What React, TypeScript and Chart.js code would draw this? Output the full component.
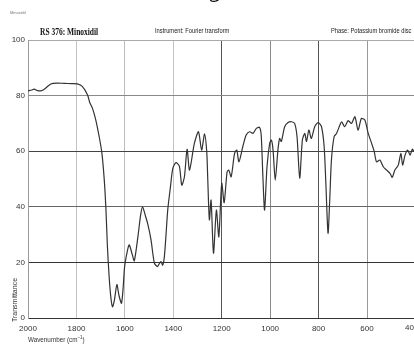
import React, { useEffect, useRef } from "react";
import { Chart, registerables } from "chart.js";

Chart.register(...registerables);

const wavenumbers = [
  2000, 1985, 1975, 1960, 1947, 1930, 1906, 1880, 1851, 1820, 1796, 1775, 1754, 1745, 1734, 1720, 1706, 1695,
  1685, 1678, 1672, 1665, 1658, 1651, 1643, 1633, 1624, 1614, 1607, 1601, 1590, 1582, 1570, 1561, 1545, 1535,
  1527, 1516, 1506, 1492, 1478, 1465, 1458, 1451, 1444, 1437, 1430, 1423, 1412, 1402, 1389, 1375, 1365, 1354,
  1343, 1333, 1313, 1296, 1283, 1271, 1262, 1258, 1251, 1244, 1234, 1222, 1212, 1200, 1190, 1178, 1171, 1161,
  1147, 1138, 1129, 1113, 1099, 1085, 1071, 1057, 1044, 1037, 1030, 1023, 1013, 1002, 995, 988, 979, 968, 961,
  954, 940, 926, 912, 899, 889, 878, 867, 857, 850, 840, 830, 816, 802, 788, 777, 770, 761, 754, 747, 736, 726,
  712, 705, 692, 678, 664, 650, 637, 623, 609, 595, 581, 570, 561, 547, 533, 519, 505, 496, 485, 471, 460, 453,
  443, 432, 422, 413, 406,
];

const transmittance = [
  81.7, 82.0, 82.3, 81.8, 81.7, 82.5, 84.2, 84.5, 84.4, 84.3, 84.2, 83.2, 80.2, 77.5, 75.5, 71.2, 65.2, 59.4,
  49.6, 38.8, 25.6, 14.9, 7.5, 4.0, 6.5, 12, 8, 5.3, 11, 18.5, 24, 26.3, 23, 20.6, 30, 37,
  40.0, 37, 34.0, 28.1, 19.7, 18.5, 19.5, 20.3, 19, 22, 30, 38.8, 47, 53.8, 55.9, 54.6, 47.8, 50.8,
  60.7, 53.2, 62.8, 67.0, 60.4, 66.2, 60, 50.8, 35.3, 42.4, 23.3, 38.8, 29.2, 48.5, 41.5, 52.5, 53.2, 50.8,
  59.2, 60.4, 56.2, 61.6, 65.8, 67, 66.4, 68.2, 68.6, 65.8, 50.8, 38.8, 54.4, 62.8, 64, 60.4, 49.6, 60.4, 64.6,
  63.5, 68.8, 70.3, 70.6, 70, 65.2, 50.3, 64, 66.4, 63.5, 67.6, 64.6, 68.8, 70.3, 68.8, 61.6, 48.5, 30.5, 42.4, 56.8, 65.2, 66.4,
  69.4, 70.6, 68.8, 71, 70, 72.4, 67.6, 71.8, 71.2, 66.4, 62.8, 59.8, 56.2, 56.8, 54.4, 53.2, 52, 50.6, 53.2, 55, 59.2, 55,
  58.6, 60.4, 58.6, 60.7, 59.8,
];

const xTicks = [2000, 1800, 1600, 1400, 1200, 1000, 800, 600];
const yTicks = [0, 20, 40, 60, 80, 100];

const xGridColors: Record<number, string> = {
  2000: "#888", 1800: "#c4c4c4", 1600: "#bdbdbd", 1400: "#c4c4c4", 1200: "#555", 1000: "#8a8a8a", 800: "#555", 600: "#999",
};
const yGridColors: Record<number, string> = {
  0: "#333", 20: "#333", 40: "#666", 60: "#444", 80: "#888", 100: "#aaa",
};

const sans = "'Liberation Sans', Arial, sans-serif";

export default function App() {
  const ref = useRef<HTMLCanvasElement | null>(null);

  useEffect(() => {
    if (!ref.current) return;
    const points = wavenumbers.map((w, i) => ({ x: w, y: transmittance[i] }));
    const chart = new Chart(ref.current, {
      type: "line",
      data: {
        datasets: [
          {
            data: points,
            borderColor: "#333",
            borderWidth: 1.2,
            pointRadius: 0,
            tension: 0.25,
            fill: false,
          },
        ],
      },
      options: {
        animation: false,
        responsive: false,
        maintainAspectRatio: false,
        layout: { padding: { top: 40, left: 0, right: 0, bottom: 0 } },
        plugins: { legend: { display: false }, tooltip: { enabled: false }, title: { display: false } },
        scales: {
          x: {
            type: "linear",
            reverse: true,
            min: 406,
            max: 2000,
            afterBuildTicks: (s: any) => {
              s.ticks = xTicks.map((v) => ({ value: v }));
            },
            afterFit: (s: any) => {
              s.height = 26;
            },
            grid: {
              drawTicks: false,
              color: (c: any) => xGridColors[c.tick?.value] ?? "#bbb",
              lineWidth: 1,
            },
            border: { display: true, color: "#333", width: 1 },
            ticks: {
              padding: 6,
              color: "#333",
              font: { size: 8, family: sans },
              maxRotation: 0,
              autoSkip: false,
              callback: (v: any) => String(v),
            },
          },
          y: {
            min: 0,
            max: 100,
            afterBuildTicks: (s: any) => {
              s.ticks = yTicks.map((v) => ({ value: v }));
            },
            afterFit: (s: any) => {
              s.width = 28;
            },
            grid: {
              drawTicks: false,
              color: (c: any) => yGridColors[c.tick?.value] ?? "#888",
              lineWidth: 1,
            },
            border: { display: true, color: "#999", width: 1 },
            ticks: {
              padding: 3,
              color: "#333",
              font: { size: 8, family: sans },
              autoSkip: false,
            },
          },
        },
      },
    });
    return () => chart.destroy();
  }, []);

  return (
    <div style={{ position: "absolute", left: 0, top: 0, width: 414, height: 344, overflow: "hidden", background: "#fff" }}>
      <canvas ref={ref} width={414} height={344} style={{ position: "absolute", left: 0, top: 0, width: 414, height: 344 }} />
      <div style={{ position: "absolute", left: 62, top: -26, height: 30, lineHeight: "30px", fontFamily: "'Liberation Serif', serif", fontStyle: "italic", fontSize: 26, color: "#111", whiteSpace: "nowrap" }}>
        and monitoring.
      </div>
      <div style={{ position: "absolute", left: 10, top: 10, fontFamily: sans, fontSize: 4, color: "#777", whiteSpace: "nowrap" }}>
        Minoxidil
      </div>
      <div style={{ position: "absolute", left: 40, top: 25, fontFamily: "'Liberation Serif', serif", fontWeight: "bold", fontSize: 11, color: "#111", whiteSpace: "nowrap", transform: "scaleX(0.68)", transformOrigin: "left center" }}>
        RS 376: Minoxidil
      </div>
      <div style={{ position: "absolute", left: 155, top: 27, fontFamily: sans, fontSize: 7, color: "#222", whiteSpace: "nowrap", transform: "scaleX(0.82)", transformOrigin: "left center" }}>
        Instrument: Fourier transform
      </div>
      <div style={{ position: "absolute", left: 331, top: 27, fontFamily: sans, fontSize: 7, color: "#222", whiteSpace: "nowrap", transform: "scaleX(0.82)", transformOrigin: "left center" }}>
        Phase: Potassium bromide disc
      </div>
      <div style={{ position: "absolute", left: 405, top: 323, fontFamily: sans, fontSize: 8, color: "#333", whiteSpace: "nowrap" }}>
        400
      </div>
      <div style={{ position: "absolute", left: 14, top: 300, width: 0, height: 0 }}>
        <div style={{ position: "absolute", left: 0, top: 0, transform: "translate(-50%, -50%) rotate(-90deg)", fontFamily: sans, fontSize: 7, color: "#333", whiteSpace: "nowrap" }}>
          Transmittance
        </div>
      </div>
      <div style={{ position: "absolute", left: 28, top: 334, fontFamily: sans, fontSize: 7, color: "#333", whiteSpace: "nowrap", transform: "scaleX(0.9)", transformOrigin: "left center" }}>
        Wavenumber (cm<sup style={{ fontSize: 5 }}>−1</sup>)
      </div>
    </div>
  );
}
